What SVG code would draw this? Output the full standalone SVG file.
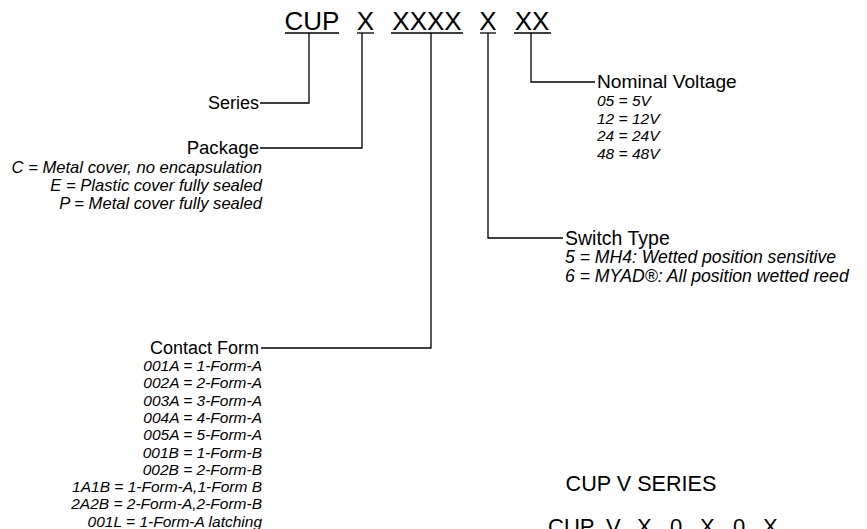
<svg xmlns="http://www.w3.org/2000/svg" width="867" height="529" viewBox="0 0 867 529">
<style>
text{font-family:"Liberation Sans",Arial,sans-serif;fill:#000}
.hd{font-size:26px;text-anchor:middle}
.lb{font-size:18px}
.it{font-size:15.5px;font-style:italic}
.r{text-anchor:end}
.big{font-size:22px}
.ln{stroke:#000;stroke-width:1.3;fill:none}
</style>
<rect width="867" height="529" fill="#fff"/>
<g id="code">
<text class="hd" x="312" y="30">CUP</text>
<text class="hd" x="365.5" y="30">X</text>
<text class="hd" x="427" y="30">XXXX</text>
<text class="hd" x="488" y="30">X</text>
<text class="hd" x="532" y="30">XX</text>
<g class="ln">
<line x1="285" y1="33" x2="339" y2="33"/>
<line x1="357" y1="33" x2="374" y2="33"/>
<line x1="391" y1="33" x2="463" y2="33"/>
<line x1="480" y1="33" x2="496" y2="33"/>
<line x1="514" y1="33" x2="551" y2="33"/>
</g>
</g>
<g id="connectors" class="ln">
<polyline points="309,33 309,103 260,103"/>
<polyline points="362,33 362,148 260,148"/>
<polyline points="431,33 431,348 261,348"/>
<polyline points="488,33 488,238 563,238"/>
<polyline points="531,33 531,82 595,82"/>
</g>
<g id="series">
<text class="lb r" x="259" y="109">Series</text>
</g>
<g id="package">
<text class="lb r" x="259" y="154" style="font-size:18.6px">Package</text>
<text class="it r" x="262" y="173" style="font-size:16.6px">C = Metal cover, no encapsulation</text>
<text class="it r" x="262" y="191" style="font-size:16.6px">E = Plastic cover fully sealed</text>
<text class="it r" x="262" y="209" style="font-size:16.6px">P = Metal cover fully sealed</text>
</g>
<g id="contact-form">
<text class="lb r" x="259" y="354">Contact Form</text>
<text class="it r" x="262" y="371">001A = 1-Form-A</text>
<text class="it r" x="262" y="388.3">002A = 2-Form-A</text>
<text class="it r" x="262" y="405.6">003A = 3-Form-A</text>
<text class="it r" x="262" y="422.9">004A = 4-Form-A</text>
<text class="it r" x="262" y="440.2">005A = 5-Form-A</text>
<text class="it r" x="262" y="457.5">001B = 1-Form-B</text>
<text class="it r" x="262" y="474.8">002B = 2-Form-B</text>
<text class="it r" x="262" y="492.1">1A1B = 1-Form-A,1-Form B</text>
<text class="it r" x="262" y="509.4">2A2B = 2-Form-A,2-Form-B</text>
<text class="it r" x="262" y="526.5">001L = 1-Form-A latching</text>
</g>
<g id="switch-type">
<text class="lb" x="565" y="245" style="font-size:19.5px">Switch Type</text>
<text class="it" x="565" y="263" style="font-size:17.6px">5 = MH4: Wetted position sensitive</text>
<text class="it" x="565" y="282" style="font-size:17.6px">6 = MYAD®: All position wetted reed</text>
</g>
<g id="nominal-voltage">
<text class="lb" x="597" y="88" style="font-size:19.2px">Nominal Voltage</text>
<text class="it" x="597" y="106">05 = 5V</text>
<text class="it" x="597" y="124">12 = 12V</text>
<text class="it" x="597" y="141">24 = 24V</text>
<text class="it" x="597" y="159">48 = 48V</text>
</g>
<g id="footer">
<text class="big" x="641" y="491" text-anchor="middle" style="font-size:21.6px">CUP V SERIES</text>
<text class="big" y="534"><tspan x="548">CUP</tspan><tspan x="606">V</tspan><tspan x="637">X</tspan><tspan x="670">0</tspan><tspan x="700">X</tspan><tspan x="733">0</tspan><tspan x="763">X</tspan></text>
</g>
</svg>
